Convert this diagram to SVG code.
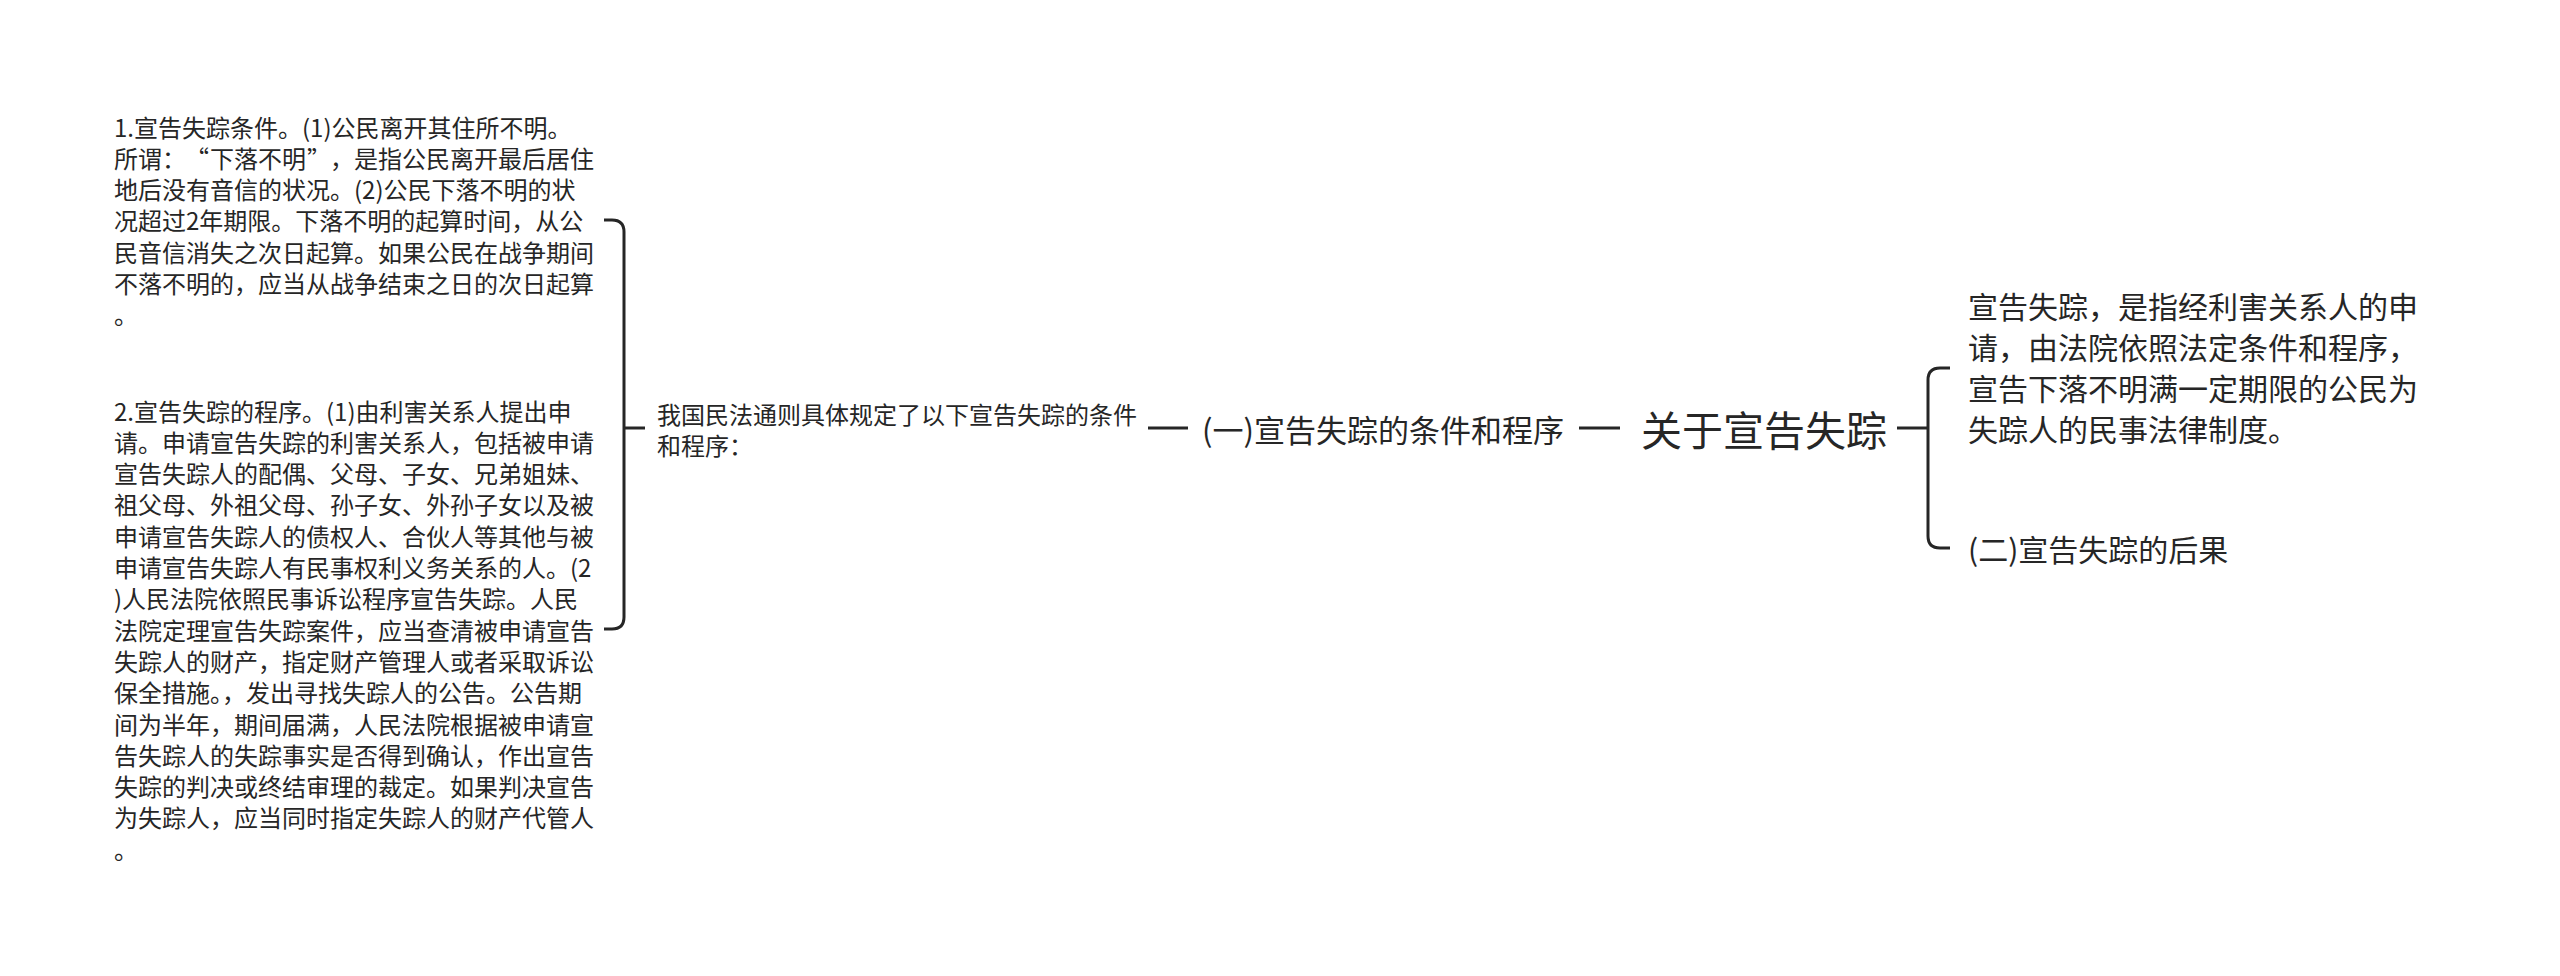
<svg xmlns="http://www.w3.org/2000/svg" width="2560" height="976" viewBox="0 0 2560 976">
<style>
  text { font-family: "Noto Sans CJK SC", "Microsoft YaHei", sans-serif; fill: #262626; dominant-baseline: central; }
  .leaf { font-size: 24px; }
  .mid { font-size: 30px; }
  .branch { font-size: 31px; }
  .root { font-size: 41px; }
  .conn { fill: none; stroke: #262626; stroke-width: 3; stroke-linecap: butt; }
</style>
<rect width="2560" height="976" fill="#ffffff"/>
<g id="connectors">
  <path class="conn" d="M604,220 H612 Q624,220 624,232 V617 Q624,629 612,629 H604"/>
  <path class="conn" d="M624,428 H645"/>
  <path class="conn" d="M1148,428 H1188"/>
  <path class="conn" d="M1579,428 H1620"/>
  <path class="conn" d="M1897,428 H1928"/>
  <path class="conn" d="M1950,368 H1940 Q1928,368 1928,380 V536 Q1928,548 1940,548 H1950"/>
</g>
<g id="node-conditions" class="leaf">
  <text x="114" y="126">1.宣告失踪条件。(1)公民离开其住所不明。</text>
  <text x="114" y="157.3">所谓：</text>
  <text x="209" y="157.3" text-anchor="end">“</text>
  <text x="210" y="157.3">下落不明</text>
  <text x="307" y="157.3">”</text>
  <text x="330" y="157.3">，是指公民离开最后居住</text>
  <text x="114" y="188.6">地后没有音信的状况。(2)公民下落不明的状</text>
  <text x="114" y="219.9">况超过2年期限。下落不明的起算时间，从公</text>
  <text x="114" y="251.2">民音信消失之次日起算。如果公民在战争期间</text>
  <text x="114" y="282.5">不落不明的，应当从战争结束之日的次日起算</text>
  <text x="114" y="313.8">。</text>
</g>
<g id="node-procedure" class="leaf">
  <text x="114" y="410">2.宣告失踪的程序。(1)由利害关系人提出申</text>
  <text x="114" y="441.3">请。申请宣告失踪的利害关系人，包括被申请</text>
  <text x="114" y="472.6">宣告失踪人的配偶、父母、子女、兄弟姐妹、</text>
  <text x="114" y="503.9">祖父母、外祖父母、孙子女、外孙子女以及被</text>
  <text x="114" y="535.2">申请宣告失踪人的债权人、合伙人等其他与被</text>
  <text x="114" y="566.5">申请宣告失踪人有民事权利义务关系的人。(2</text>
  <text x="114" y="597.8">)人民法院依照民事诉讼程序宣告失踪。人民</text>
  <text x="114" y="629.1">法院定理宣告失踪案件，应当查清被申请宣告</text>
  <text x="114" y="660.4">失踪人的财产，指定财产管理人或者采取诉讼</text>
  <text x="114" y="691.7">保全措施。，发出寻找失踪人的公告。公告期</text>
  <text x="114" y="723">间为半年，期间届满，人民法院根据被申请宣</text>
  <text x="114" y="754.3">告失踪人的失踪事实是否得到确认，作出宣告</text>
  <text x="114" y="785.6">失踪的判决或终结审理的裁定。如果判决宣告</text>
  <text x="114" y="816.9">为失踪人，应当同时指定失踪人的财产代管人</text>
  <text x="114" y="848.2">。</text>
</g>
<g id="node-law" class="leaf">
  <text x="657" y="413">我国民法通则具体规定了以下宣告失踪的条件</text>
  <text x="657" y="444">和程序：</text>
</g>
<g id="node-branch1" class="branch">
  <text x="1202" y="428">(一)宣告失踪的条件和程序</text>
</g>
<g id="node-root" class="root">
  <text x="1641" y="428">关于宣告失踪</text>
</g>
<g id="node-definition" class="mid">
  <text x="1968" y="304.5">宣告失踪，是指经利害关系人的申</text>
  <text x="1968" y="345.5">请，由法院依照法定条件和程序，</text>
  <text x="1968" y="386.5">宣告下落不明满一定期限的公民为</text>
  <text x="1968" y="427.5">失踪人的民事法律制度。</text>
</g>
<g id="node-branch2" class="mid">
  <text x="1968" y="548">(二)宣告失踪的后果</text>
</g>
</svg>
